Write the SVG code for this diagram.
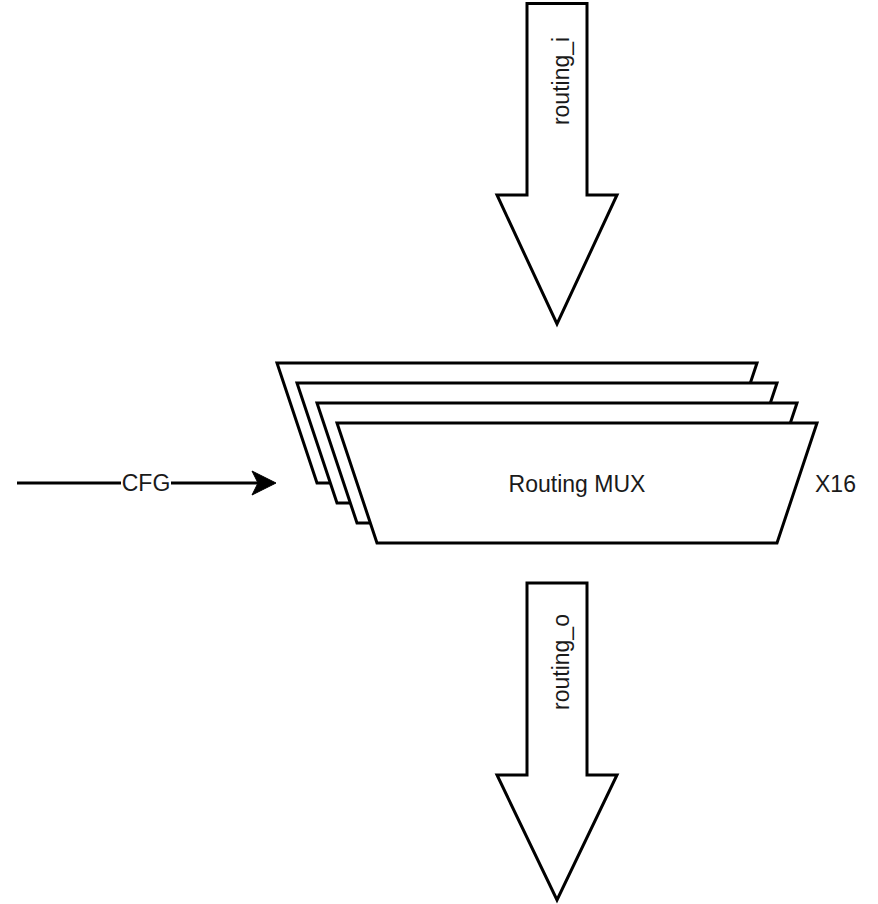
<svg xmlns="http://www.w3.org/2000/svg" width="878" height="904" viewBox="0 0 878 904">
  <style>
    .shape { fill: #ffffff; stroke: #000000; stroke-width: 3; stroke-linejoin: miter; }
    .line { fill: none; stroke: #000000; stroke-width: 3; }
    .label { font-family: "Liberation Sans", Arial, sans-serif; font-size: 23px; fill: #1a1a1a; }
  </style>
  <defs>
    <polygon id="mux" points="0,0 480,0 440,120 40,120"/>
  </defs>
  <rect width="878" height="904" fill="#ffffff"/>

  <g id="routing_i">
    <polygon class="shape" points="527,3.5 587,3.5 587,195 617,195 557,324 497,195 527,195"/>
    <text class="label" text-anchor="middle" transform="translate(569,81) rotate(-90)">routing_i</text>
  </g>

  <g id="mux_stack">
    <use href="#mux" class="shape" x="277" y="363"/>
    <use href="#mux" class="shape" x="297" y="383"/>
    <use href="#mux" class="shape" x="317" y="403"/>
    <g id="routing_mux">
      <use href="#mux" class="shape" x="337" y="423"/>
      <text class="label" x="577" y="491.5" text-anchor="middle">Routing MUX</text>
    </g>
  </g>

  <g id="x16">
    <text class="label" x="815" y="491.5">X16</text>
  </g>

  <g id="routing_o">
    <polygon class="shape" points="527,583 587,583 587,775 617,775 557,900 497,775 527,775"/>
    <text class="label" text-anchor="middle" transform="translate(569,662) rotate(-90)">routing_o</text>
  </g>

  <g id="connectors">
    <line class="line" x1="17" y1="483" x2="121" y2="483"/>
    <line class="line" x1="171" y1="483" x2="258" y2="483"/>
    <path d="M276,483 L252,471 L258,483 L252,495 Z" fill="#000000" stroke="#000000" stroke-width="1"/>
    <text class="label" x="146" y="491" text-anchor="middle">CFG</text>
  </g>
</svg>
